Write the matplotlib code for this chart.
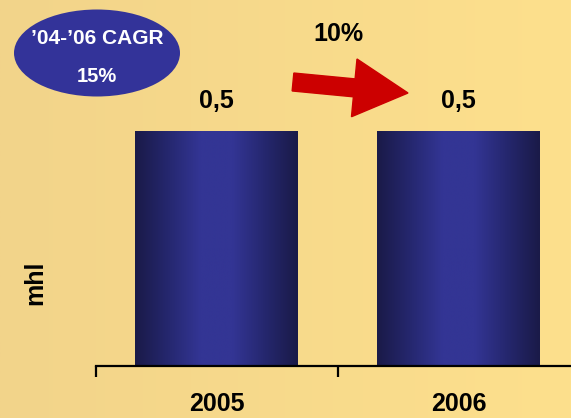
import matplotlib
matplotlib.use("Agg")
import matplotlib.pyplot as plt
import numpy as np
from matplotlib.colors import LinearSegmentedColormap
from matplotlib.patches import Ellipse, FancyArrow

plt.rcParams['font.family'] = ['Liberation Sans', 'DejaVu Sans']

years = ['2005', '2006']
volumes = [0.5, 0.5]
value_labels = ['0,5', '0,5']
cagr_label = '\u201904-\u201906 CAGR'
cagr_value = '15%'
growth_label = '10%'
unit = 'mhl'

W, H = 571, 418
fig = plt.figure(figsize=(W / 100, H / 100), dpi=100)

# background gradient (beige-orange on the left, lighter yellow on the right)
bg = fig.add_axes([0, 0, 1, 1], zorder=0)
bg_cmap = LinearSegmentedColormap.from_list('bg', ['#F2D48A', '#FDE08D'])
bg.imshow(np.linspace(0, 1, 256).reshape(1, -1), cmap=bg_cmap, aspect='auto',
          extent=[0, 1, 0, 1])
bg.set_axis_off()

ax = fig.add_axes([96 / W, (H - 366) / H, (W - 96) / W, 366 / H], zorder=1)
ax.patch.set_alpha(0)
x = np.arange(len(years))
bars = ax.bar(x, volumes, width=0.674, color='none', edgecolor='none')

bar_cmap = LinearSegmentedColormap.from_list(
    'bar', ['#1A1A48', '#25276E', '#333594', '#333594', '#25276E', '#1A1A48'])
grad = np.linspace(0, 1, 256).reshape(1, -1)
for b in bars:
    x0, y0 = b.get_x(), b.get_y()
    ax.imshow(grad, cmap=bar_cmap, aspect='auto',
              extent=[x0, x0 + b.get_width(), y0, y0 + b.get_height()], zorder=2)

for b, lab in zip(bars, value_labels):
    ax.annotate(lab, (b.get_x() + b.get_width() / 2, b.get_height()),
                xytext=(0, 13), textcoords='offset points', ha='center', va='bottom',
                fontsize=18, fontweight='bold', color='black')

for s in ['top', 'right', 'left']:
    ax.spines[s].set_visible(False)
ax.spines['bottom'].set_linewidth(1.6)
ax.set_yticks([])
ax.set_xticks(x)
ax.set_xticklabels(years, fontsize=18, fontweight='bold')
ax.tick_params(axis='x', which='major', length=0, pad=19)
ax.set_xticks([-0.5, 0.5, 1.5], minor=True)
ax.tick_params(axis='x', which='minor', length=8, width=1.6, direction='out')

# limits last, so the tick calls do not widen them
ax.set_xlim(-0.5, (W - 216.5) / 242)
ax.set_ylim(0, 0.5 * 366 / 235)

fig.text(35 / W, 1 - 283 / H, unit, rotation=90, ha='center', va='center',
         fontsize=18, fontweight='bold')

# CAGR bubble
ell = Ellipse((97 / W, 1 - 53 / H), 166 / W, 87 / H, transform=fig.transFigure,
              facecolor='#333399', edgecolor='none', zorder=3)
fig.patches.append(ell)
fig.text(97 / W, 1 - 38 / H, cagr_label, ha='center', va='center', color='white',
         fontsize=15, fontweight='bold', zorder=4)
fig.text(97 / W, 1 - 76 / H, cagr_value, ha='center', va='center', color='white',
         fontsize=14.5, fontweight='bold', zorder=4)

# growth arrow
fig.text(338 / W, 1 - 34 / H, growth_label, ha='center', va='center',
         fontsize=18, fontweight='bold', zorder=4)
arrow = FancyArrow(293, H - 82, 115, -11, width=18, head_width=58, head_length=54,
                   length_includes_head=True, transform=None, color='#CC0000',
                   zorder=4)
fig.patches.append(arrow)

fig.savefig('out.png', dpi=100)
